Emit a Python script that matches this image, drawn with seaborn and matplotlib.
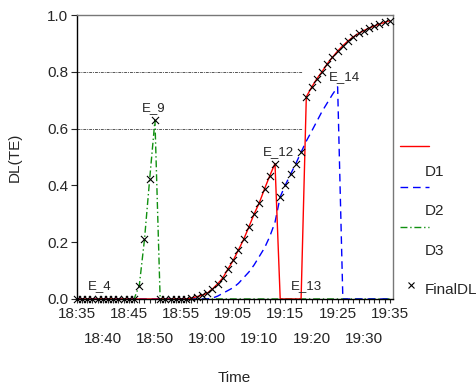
import matplotlib
matplotlib.use("Agg")
import matplotlib.pyplot as plt
import seaborn as sns
import numpy as np
import pandas as pd
from matplotlib.lines import Line2D

# minutes after 18:35, one sample a minute
minutes = list(range(0, 61))

d1 = [0, 0, 0, 0, 0, 0, 0, 0, 0, 0, 0, 0, 0, 0, 0, 0, 0, 0, 0, 0, 0, 0,
      0.003, 0.008, 0.013, 0.020, 0.035, 0.053, 0.074, 0.106, 0.136, 0.173,
      0.210, 0.254, 0.299, 0.339, 0.388, 0.434, 0.477,
      0, 0, 0, 0, 0,
      0.712, 0.745, 0.775, 0.800, 0.828, 0.851, 0.873, 0.892, 0.909, 0.923,
      0.935, 0.945, 0.954, 0.961, 0.968, 0.974, 0.980]

d2 = [0, 0, 0, 0, 0, 0, 0, 0, 0, 0, 0, 0, 0, 0, 0, 0, 0, 0, 0, 0, 0, 0,
      0, 0, 0, 0,
      0.003, 0.010, 0.020, 0.030, 0.040, 0.055, 0.075, 0.095, 0.120, 0.150,
      0.180, 0.220, 0.270, 0.360, 0.402, 0.440, 0.477, 0.517, 0.556, 0.590,
      0.625, 0.660, 0.690, 0.720, 0.747,
      0, 0, 0, 0, 0, 0, 0, 0, 0, 0]

d3 = [0, 0, 0, 0, 0, 0, 0, 0, 0, 0, 0, 0,
      0.047, 0.210, 0.424, 0.629,
      0, 0, 0, 0, 0, 0, 0, 0, 0, 0, 0, 0, 0, 0, 0, 0, 0, 0, 0, 0, 0, 0, 0,
      0, 0, 0, 0, 0, 0, 0, 0, 0, 0, 0, 0, 0, 0, 0, 0, 0, 0, 0, 0, 0, 0]

final_dl = [0, 0, 0, 0, 0, 0, 0, 0, 0, 0, 0, 0,
            0.047, 0.210, 0.424, 0.629,
            0, 0, 0, 0, 0, 0,
            0.003, 0.008, 0.013, 0.020, 0.035, 0.053, 0.074, 0.106, 0.136, 0.173,
            0.210, 0.254, 0.299, 0.339, 0.388, 0.434, 0.477,
            0.360, 0.402, 0.440, 0.477, 0.517,
            0.712, 0.745, 0.775, 0.800, 0.828, 0.851, 0.873, 0.892, 0.909, 0.923,
            0.935, 0.945, 0.954, 0.961, 0.968, 0.974, 0.980]

tick_minutes = [0, 5, 10, 15, 20, 25, 30, 35, 40, 45, 50, 55, 60]
tick_labels = ["18:35", "18:40", "18:45", "18:50", "18:55", "19:00", "19:05",
               "19:10", "19:15", "19:20", "19:25", "19:30", "19:35"]

thresholds = [0.6, 0.8]

# event labels
event_names = ["E_4", "E_9", "E_12", "E_13", "E_14"]
event_minutes = [4.5, 14.7, 38.6, 44.1, 51.3]
event_levels = [0.044, 0.672, 0.517, 0.044, 0.781]

df = pd.DataFrame({"t": minutes, "D1": d1, "D2": d2, "D3": d3, "FinalDL": final_dl})

sns.set_style("ticks")
plt.rcParams["font.family"] = ["Liberation Sans", "DejaVu Sans"]

fig = plt.figure(figsize=(4.76, 3.87), dpi=100)
ax = fig.add_axes([0.161, 0.2274, 0.664, 0.7338])

green = "#109010"
dash_blue = (0, (5.5, 3.5))
dash_green = (0, (5, 2, 1, 2))
sns.lineplot(data=df, x="t", y="D3", ax=ax, color=green, lw=1,
             linestyle=dash_green, estimator=None, zorder=2)
sns.lineplot(data=df, x="t", y="D2", ax=ax, color="blue", lw=1,
             linestyle=dash_blue, estimator=None, zorder=2.1)
sns.lineplot(data=df, x="t", y="D1", ax=ax, color="red", lw=1,
             estimator=None, zorder=2.2)
sns.scatterplot(data=df, x="t", y="FinalDL", ax=ax, marker="x", color="black",
                s=26, linewidth=0.8, zorder=5, clip_on=False)

ax.hlines(thresholds, 0, 43.2, colors="#555555", lw=0.7,
          linestyles=[(0, (3, 1, 1, 1))], zorder=1)

for name, m, lv in zip(event_names, event_minutes, event_levels):
    ax.text(m, lv, name, ha="center", va="center", fontsize=9.5, zorder=6)

ax.set_xlim(0, 60.55)
ax.set_ylim(0, 1.0)

# first row of time labels on the main axis, second row on a secondary one
ax.set_xticks(tick_minutes[0::2])
ax.set_xticklabels(tick_labels[0::2], fontsize=11)
ax.set_xticks(minutes, minor=True)
ax.tick_params(axis="x", which="both", length=3, width=0.8, pad=3, direction="out")

sec = ax.secondary_xaxis("bottom")
sec.set_xticks(tick_minutes[1::2])
sec.set_xticklabels(tick_labels[1::2], fontsize=11)
sec.tick_params(axis="x", length=0, pad=24)
sec.spines["bottom"].set_visible(False)

ax.set_yticks(np.arange(0, 1.01, 0.2))
ax.set_yticklabels(["%.1f" % v for v in np.arange(0, 1.01, 0.2)], fontsize=11)
ax.tick_params(axis="y", length=4, width=0.8, pad=2)
ax.set_xlabel("Time", fontsize=11, labelpad=36)
ax.set_ylabel("DL(TE)", fontsize=11, labelpad=18)

for side in ["left", "bottom"]:
    ax.spines[side].set_color("black")
    ax.spines[side].set_linewidth(1)
for side in ["top", "right"]:
    ax.spines[side].set_visible(True)
    ax.spines[side].set_color("#777777")
    ax.spines[side].set_linewidth(1)

# legend drawn at the right margin, labels sit below their line samples
W, H = 476.0, 387.0
key_rows = [(146, Line2D([], [], color="red", lw=1)),
            (187, Line2D([], [], color="blue", lw=1, linestyle=dash_blue)),
            (227, Line2D([], [], color=green, lw=1, linestyle=dash_green))]
for y, ln in key_rows:
    ln.set_data([400 / W, 429 / W], [1 - y / H, 1 - y / H])
    ln.set_transform(fig.transFigure)
    fig.add_artist(ln)
fig.add_artist(Line2D([411 / W], [1 - 285 / H], marker="x", color="black",
                      ms=5, mew=0.8, linestyle="none", transform=fig.transFigure))
for y, lab in [(172, "D1"), (211, "D2"), (251, "D3"), (290, "FinalDL")]:
    fig.text(425 / W, 1 - y / H, lab, fontsize=11, va="center", ha="left")

fig.savefig("out.png", dpi=100)
